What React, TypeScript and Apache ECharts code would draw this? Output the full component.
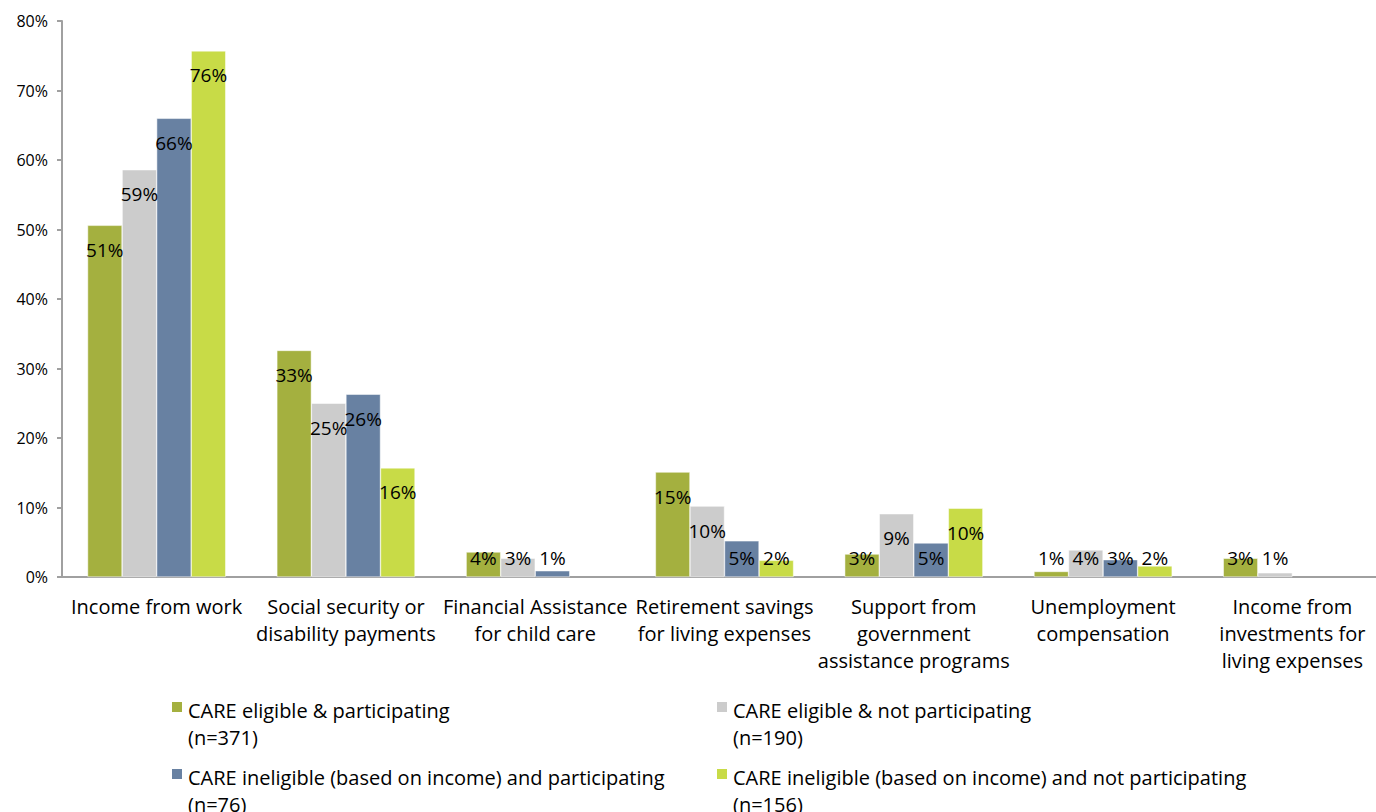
import React, { useEffect, useRef } from "react";
import * as echarts from "echarts";

const categories = [
  "Income from work",
  "Social security or\ndisability payments",
  "Financial Assistance\nfor child care",
  "Retirement savings\nfor living expenses",
  "Support from\ngovernment\nassistance programs",
  "Unemployment\ncompensation",
  "Income from\ninvestments for\nliving expenses",
];

const seriesNames = [
  "CARE eligible & participating\n(n=371)",
  "CARE eligible & not participating\n(n=190)",
  "CARE ineligible (based on income) and participating\n(n=76)",
  "CARE ineligible (based on income) and not participating\n(n=156)",
];

const eligibleParticipating = [50.6, 32.6, 3.6, 15.1, 3.3, 0.8, 2.7];
const eligibleNotParticipating = [58.6, 25.0, 2.7, 10.2, 9.1, 3.9, 0.6];
const ineligibleParticipating = [66.0, 26.3, 0.9, 5.2, 4.9, 2.5, null];
const ineligibleNotParticipating = [75.7, 15.7, null, 2.4, 9.9, 1.6, null];

const seriesValues = [
  eligibleParticipating,
  eligibleNotParticipating,
  ineligibleParticipating,
  ineligibleNotParticipating,
];

const colors = ["#A4B03F", "#CCCCCC", "#6881A2", "#C8DB47"];
const yTicks = [0, 10, 20, 30, 40, 50, 60, 70, 80];

const FONT = "'Open Sans', Lato, sans-serif";
const LEGEND_ICON = "path://M0,0L12,0L12,12L0,12Z M0,46L0.01,46L0.01,45.99Z";

export default function App() {
  const ref = useRef<HTMLDivElement>(null);
  useEffect(() => {
    if (!ref.current) return;
    const chart = echarts.init(ref.current, null, { renderer: "svg" });
    const legendPos = [
      { left: 165, top: 692 },
      { left: 710, top: 692 },
      { left: 165, top: 759 },
      { left: 710, top: 759 },
    ];
    chart.setOption({
      animation: false,
      textStyle: { fontFamily: FONT },
      grid: { left: 62, right: 3, top: 21, bottom: 235, containLabel: false },
      legend: seriesNames.map((n, i) => ({
        data: [n],
        left: legendPos[i].left,
        top: legendPos[i].top,
        itemWidth: 12,
        itemHeight: 46,
        icon: LEGEND_ICON,
        selectedMode: false,
        textStyle: {
          fontFamily: FONT,
          fontSize: 20,
          color: "#000",
          lineHeight: 27,
        },
      })),
      xAxis: {
        type: "category",
        data: categories,
        axisLine: { lineStyle: { color: "#A0A0A0", width: 2 } },
        axisTick: { show: false },
        axisLabel: {
          interval: 0,
          color: "#000",
          fontSize: 20,
          lineHeight: 27,
          margin: 16,
          fontFamily: FONT,
        },
      },
      yAxis: {
        type: "value",
        min: yTicks[0],
        max: yTicks[yTicks.length - 1],
        interval: 10,
        axisLine: { show: true, lineStyle: { color: "#A0A0A0", width: 2 } },
        axisTick: { show: true, length: 5, lineStyle: { color: "#A0A0A0", width: 2 } },
        splitLine: { show: false },
        axisLabel: {
          formatter: "{value}%",
          color: "#000",
          fontSize: 16,
          margin: 14,
          fontFamily: FONT,
        },
      },
      series: seriesValues.map((vals, i) => ({
        name: seriesNames[i],
        type: "bar",
        barGap: "0%",
        barCategoryGap: "27%",
        itemStyle: { color: colors[i], borderColor: "#fff", borderWidth: 0.5 },
        data: vals.map((v) => {
          if (v === null) return null;
          const big = v >= 6.5;
          return {
            value: v,
            label: big
              ? { position: "insideTop", distance: 15 }
              : { position: "insideBottom", distance: 10 },
          };
        }),
        label: {
          show: true,
          color: "#000",
          fontSize: 19,
          fontFamily: FONT,
          formatter: (p: any) => Math.round(p.value) + "%",
        },
      })),
    });
    return () => chart.dispose();
  }, []);
  return (
    <div
      style={{ position: "absolute", left: 0, top: 0, width: 1376, height: 812, overflow: "hidden", background: "#fff" }}
    >
      <div ref={ref} style={{ width: 1390, height: 812 }} />
    </div>
  );
}
